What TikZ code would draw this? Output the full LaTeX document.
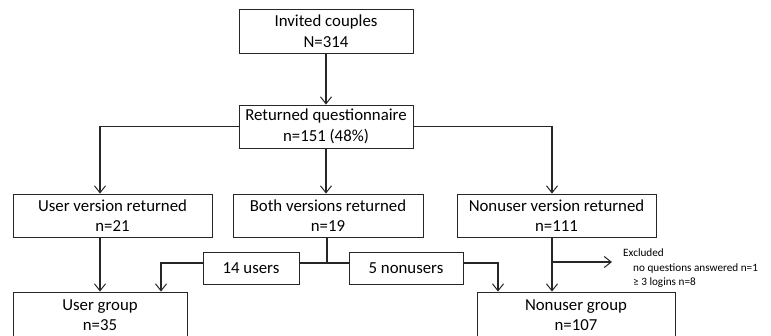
\documentclass[tikz,border=0pt]{standalone}
\usepackage{fontspec}
\setmainfont{Carlito}
\usetikzlibrary{arrows.meta}

\begin{document}
\begin{tikzpicture}[x=1pt,y=-1pt,
  box/.style={draw=black!85, line width=0.8pt, align=center, inner sep=0pt,
    font=\fontsize{16.8}{20.5}\selectfont},
  arr/.style={draw=black!85, line width=1.1pt, -{Straight Barb[length=7pt,width=11pt,line width=1pt]}}]
  \useasboundingbox (0,0) rectangle (771,335);

  % Top boxes
  \node[box, minimum width=174pt, minimum height=44pt] (invited) at (326,31) {Invited couples\\N=314};
  \node[box, minimum width=174pt, minimum height=43pt] (returned) at (326,126.5) {Returned questionnaire\\n=151 (48\%)};

  % Versions returned
  \node[box, minimum width=199pt, minimum height=43pt] (userret) at (112.5,215.5) {User version returned\\n=21};
  \node[box, minimum width=190pt, minimum height=43pt] (bothret) at (328,215.5) {Both versions returned\\n=19};
  \node[box, minimum width=199pt, minimum height=43pt] (nonret) at (556.5,215.5) {Nonuser version returned\\n=111};

  % Split of both versions
  \node[box, minimum width=96pt, minimum height=32pt] (users) at (251,268) {14 users};
  \node[box, minimum width=114pt, minimum height=32pt] (nonusers) at (406,268) {5 nonusers};

  % Groups
  \node[box, minimum width=174pt, minimum height=46pt] (usergrp) at (100,315) {User group\\n=35};
  \node[box, minimum width=198pt, minimum height=46pt] (nongrp) at (576,315) {Nonuser group\\n=107};

  % Excluded
  \node[align=left, anchor=west, inner xsep=11pt, inner ysep=0pt,
    font=\fontsize{11.2}{14.5}\selectfont] (excluded) at (612,268.5)
    {Excluded\\\hspace*{10pt}no questions answered n=1\\\hspace*{10pt}≥ 3 logins n=8};

  % Connectors
  \draw[arr] (invited) -- (returned);
  \draw[arr] (returned.west) -| ([xshift=-12.5pt]userret.north);
  \draw[arr] (returned) -- (returned |- bothret.north);
  \draw[arr] (returned.east) -| ([xshift=-4.5pt]nonret.north);

  \coordinate (split) at (327,263);
  \draw[draw=black!85, line width=1.1pt] (bothret.south -| split) -- (split);
  \draw[draw=black!85, line width=1.1pt] (users.east |- split) -- (nonusers.west |- split);
  \draw[arr] (users.west |- split) -| ([xshift=61pt]usergrp.north);
  \draw[arr] (nonusers.east |- split) -| ([xshift=-78pt]nongrp.north);

  \draw[arr] ([xshift=-12.5pt]userret.south) -- (usergrp.north);
  \draw[arr] ([xshift=-4.5pt]nonret.south) -- ([xshift=-4.5pt]nonret.south |- nongrp.north);
  \coordinate (excl) at (552,262);
  \draw[arr] (excl) -- (excl -| excluded.west);
\end{tikzpicture}
\end{document}
